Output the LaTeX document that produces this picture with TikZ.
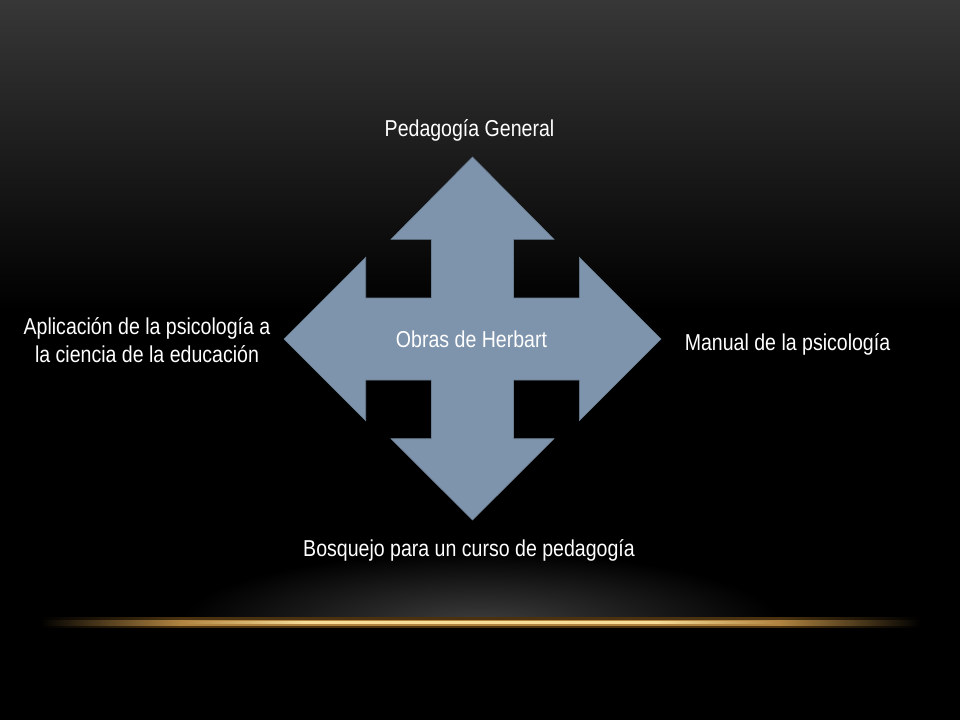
\documentclass[tikz,border=0pt]{standalone}
\usepackage{fontspec}
\setmainfont[FakeStretch=0.85]{Liberation Sans}
\definecolor{arrowfill}{HTML}{7E94AC}
\definecolor{goldA}{HTML}{4A3210}
\definecolor{goldB}{HTML}{B08440}
\definecolor{goldC}{HTML}{F6DC98}
\definecolor{topgray}{HTML}{373737}
\definecolor{glowgray}{HTML}{3E3E3E}
\pgfdeclarehorizontalshading{goldouter}{100bp}{color(0bp)=(black); color(25bp)=(black); color(33bp)=(goldA); color(67bp)=(goldA); color(75bp)=(black); color(100bp)=(black)}
\pgfdeclarehorizontalshading{goldmid}{100bp}{color(0bp)=(black); color(25bp)=(black); color(33bp)=(goldB); color(67bp)=(goldB); color(75bp)=(black); color(100bp)=(black)}
\pgfdeclarehorizontalshading{goldcore}{100bp}{color(0bp)=(black); color(25bp)=(black); color(33bp)=(goldB); color(40bp)=(goldC); color(60bp)=(goldC); color(67bp)=(goldB); color(75bp)=(black); color(100bp)=(black)}
\pgfdeclareverticalshading{topbg}{100bp}{color(0bp)=(black); color(28bp)=(black); color(75bp)=(topgray); color(100bp)=(topgray)}
\tikzset{
  lbl/.style={text=white, font=\fontsize{23}{27.5}\selectfont, anchor=base, inner sep=0pt, align=center},
}
\begin{document}
\begin{tikzpicture}[x=1pt,y=-1pt]
\useasboundingbox (0,0) rectangle (960,720);
\clip (0,0) rectangle (960,720);
\fill[black] (0,0) rectangle (960,720);
% top gradient
\shade[shading=topbg] (0,0) rectangle (960,330);
% bottom glow
\begin{scope}
\clip (0,450) rectangle (960,621);
\shade[inner color=glowgray, outer color=black] (480,624) ellipse (300 and 72);
\end{scope}
% golden line
\shade[shading=goldouter] (40,617.5) rectangle (920,627.5);
\shade[shading=goldmid] (40,620) rectangle (920,625.2);
\shade[shading=goldcore] (40,621.6) rectangle (920,623.4);
% four-way arrow
\fill[arrowfill, draw=arrowfill!85!black, line width=0.6pt]
  (472.5,157) -- (554,239.3) -- (513.5,239.3) -- (513.5,298) -- (579.3,298) -- (579.3,257.3)
  -- (661,339) -- (579.3,420.7) -- (579.3,380) -- (513.5,380) -- (513.5,438.7) -- (554,438.7)
  -- (472.5,520) -- (391,438.7) -- (431.5,438.7) -- (431.5,380) -- (365.7,380) -- (365.7,420.7)
  -- (284,339) -- (365.7,257.3) -- (365.7,298) -- (431.5,298) -- (431.5,239.3) -- (391,239.3) -- cycle;
% labels
\node[lbl] (center) at (471.5,347) {Obras de Herbart};
\node[lbl] (top) at (469.5,136.7) {Pedagogía General};
\node[lbl] (right) at (787.5,350) {Manual de la psicología};
\node[lbl] (left) at (147,362.3) {Aplicación de la psicología a\\la ciencia de la educación};
\node[lbl] (bottom) at (469,556) {Bosquejo para un curso de pedagogía};
\end{tikzpicture}
\end{document}
